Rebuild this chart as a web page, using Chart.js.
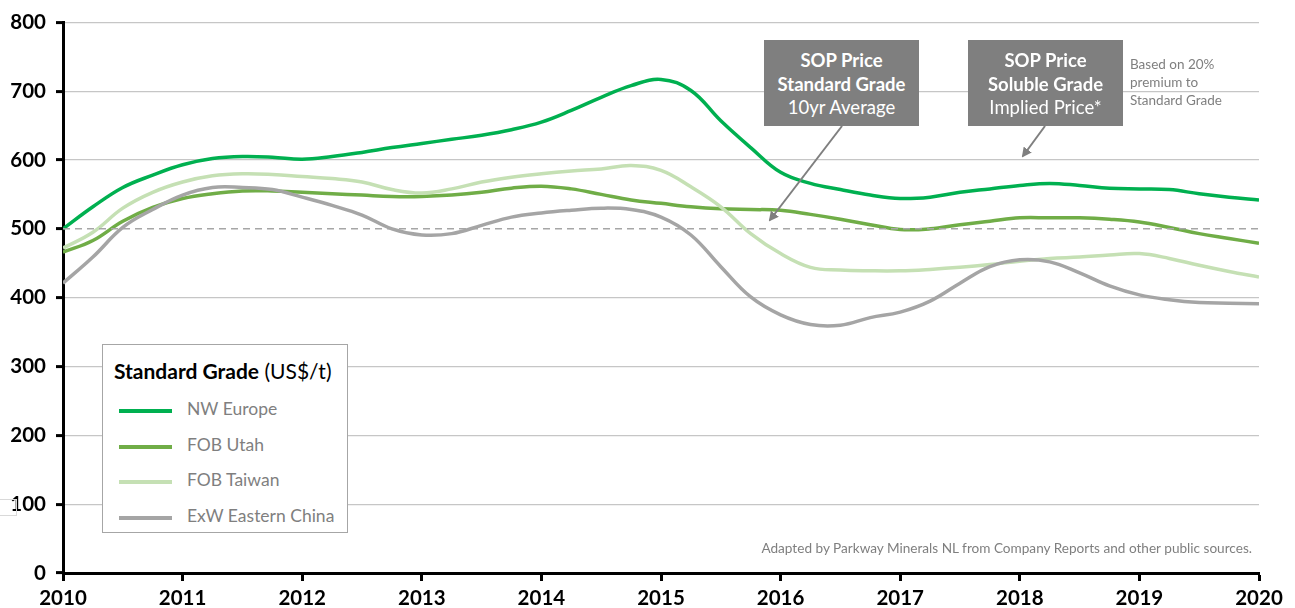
<!DOCTYPE html>
<html>
<head>
<meta charset="utf-8">
<script src="https://cdn.jsdelivr.net/npm/chart.js@4"></script>
<style>
  html, body { margin: 0; padding: 0; background: #fff; }
  #wrap { position: relative; width: 1295px; height: 608px; font-family: Lato, "Open Sans", sans-serif; }
  #chart { position: absolute; left: 0; top: 0; }
  .note-box { position: absolute; background: #7f7f7f; color: #fff; text-align: center; font-size: 18.5px; line-height: 23.5px; padding-top: 9px; box-sizing: border-box; white-space: nowrap; }
  .note-box b { font-weight: 700; }
  #legend { position: absolute; left: 102px; top: 344px; width: 246px; height: 189px; border: 1px solid #a6a6a6; background: #fff; box-sizing: border-box; }
  #legend .title { position: absolute; left: 11px; top: 13px; font-size: 21px; color: #000; white-space: nowrap; }
  #legend .item { position: absolute; left: 16px; height: 20px; font-size: 17.5px; color: #7f7f7f; white-space: nowrap; }
  #legend .item span.swatch { position: absolute; left: 0; top: 9px; width: 53px; height: 3.5px; }
  #legend .item span.label { position: absolute; left: 68px; top: -2px; }
  #side-note { position: absolute; left: 1130px; top: 55px; font-size: 13.5px; line-height: 18px; color: #7f7f7f; }
  #source { position: absolute; right: 43px; top: 540px; font-size: 13.6px; color: #7f7f7f; }
  #stub { position: absolute; left: -2px; top: 499px; width: 19px; height: 17px; border: 1px solid #d9d9d9; box-sizing: border-box; }
  svg { position: absolute; left: 0; top: 0; }
</style>
</head>
<body>
<div id="wrap">
  <canvas id="chart" width="1295" height="608"></canvas>
  <div id="stub"></div>
  <svg width="1295" height="608">
    <defs>
      <marker id="head" markerWidth="10" markerHeight="10" refX="8" refY="5" orient="auto" markerUnits="userSpaceOnUse">
        <path d="M0,0 L10,5 L0,10 Z" fill="#7f7f7f"/>
      </marker>
    </defs>
    <line x1="842" y1="126" x2="770" y2="220" stroke="#7f7f7f" stroke-width="2" marker-end="url(#head)"/>
    <line x1="1045" y1="126" x2="1023" y2="156" stroke="#7f7f7f" stroke-width="2" marker-end="url(#head)"/>
  </svg>
  <div class="note-box" style="left:764px; top:40px; width:155px; height:86px;">
    <b>SOP Price</b><br><b>Standard Grade</b><br>10yr Average
  </div>
  <div class="note-box" style="left:968px; top:40px; width:155px; height:86px;">
    <b>SOP Price</b><br><b>Soluble Grade</b><br>Implied Price*
  </div>
  <div id="side-note">Based on 20%<br>premium to<br>Standard Grade</div>
  <div id="legend">
    <div class="title"><b>Standard Grade</b> (US$/t)</div>
    <div class="item" style="top:55px;"><span class="swatch" style="background:#00b050"></span><span class="label">NW Europe</span></div>
    <div class="item" style="top:91px;"><span class="swatch" style="background:#70ad47"></span><span class="label">FOB Utah</span></div>
    <div class="item" style="top:126px;"><span class="swatch" style="background:#c5e0b4"></span><span class="label">FOB Taiwan</span></div>
    <div class="item" style="top:162px;"><span class="swatch" style="background:#a5a5a5"></span><span class="label">ExW Eastern China</span></div>
  </div>
  <div id="source">Adapted by Parkway Minerals NL from Company Reports and other public sources.</div>
</div>
<script>
// quarterly sample points (year fractions)
const years = [
  2010, 2010.25, 2010.5, 2010.75, 2011, 2011.25, 2011.5, 2011.75,
  2012, 2012.25, 2012.5, 2012.75, 2013, 2013.25, 2013.5, 2013.75,
  2014, 2014.25, 2014.5, 2014.75, 2015, 2015.25, 2015.5, 2015.75,
  2016, 2016.25, 2016.5, 2016.75, 2017, 2017.25, 2017.5, 2017.75,
  2018, 2018.25, 2018.5, 2018.75, 2019, 2019.25, 2019.5, 2019.75, 2020
];

const nwEurope = [
  500, 532, 560, 578, 593, 602, 605, 604,
  601, 605, 611, 618, 624, 630, 636, 644,
  655, 672, 691, 708, 717, 701, 657, 618,
  582, 566, 557, 549, 544, 546, 553, 558,
  563, 566, 563, 559, 558, 557, 551, 546, 542
];

const fobUtah = [
  466, 483, 511, 531, 544, 551, 555, 555,
  553, 551, 549, 547, 547, 549, 553, 559,
  562, 558, 550, 542, 537, 532, 529, 528,
  527, 521, 514, 506, 499, 500, 506, 511,
  516, 516, 516, 514, 510, 502, 493, 486, 479
];

const fobTaiwan = [
  472, 495, 530, 553, 568, 577, 580, 579,
  576, 573, 568, 557, 552, 558, 568, 575,
  580, 584, 587, 592, 585, 561, 532, 493,
  464, 444, 440, 439, 439, 441, 444, 448,
  453, 457, 459, 462, 464, 457, 447, 438, 430
];

const exwChina = [
  421, 459, 502, 528, 549, 560, 560, 557,
  546, 534, 520, 500, 491, 493, 505, 517,
  523, 527, 530, 528, 517, 491, 445, 401,
  375, 361, 360, 371, 379, 395, 421, 445,
  455, 452, 436, 417, 404, 397, 393, 392, 391
];

// 10yr average reference line
const avgYears = [2010, 2020];
const avgValues = [500, 500];

const yTicks = [0, 100, 200, 300, 400, 500, 600, 700, 800];

function toPoints(xs, ys) {
  return xs.map((x, i) => ({ x: x, y: ys[i] }));
}

function seriesLine(label, data, color) {
  return {
    label: label,
    data: toPoints(years, data),
    borderColor: color,
    borderWidth: 3.5,
    pointRadius: 0,
    tension: 0.4,
    fill: false
  };
}

const ctx = document.getElementById('chart').getContext('2d');

new Chart(ctx, {
  type: 'line',
  data: {
    datasets: [
      {
        label: '10yr Average',
        data: toPoints(avgYears, avgValues),
        borderColor: '#a6a6a6',
        borderWidth: 1.5,
        borderDash: [7, 5],
        pointRadius: 0,
        tension: 0
      },
      seriesLine('ExW Eastern China', exwChina, '#a5a5a5'),
      seriesLine('FOB Taiwan', fobTaiwan, '#c5e0b4'),
      seriesLine('FOB Utah', fobUtah, '#70ad47'),
      seriesLine('NW Europe', nwEurope, '#00b050')
    ]
  },
  options: {
    responsive: false,
    animation: false,
    layout: { padding: { top: 22, right: 36, left: 0, bottom: 0 } },
    plugins: {
      legend: { display: false },
      tooltip: { enabled: false }
    },
    scales: {
      x: {
        type: 'linear',
        min: 2010,
        max: 2020,
        afterFit: s => { s.height = 35; },
        afterBuildTicks: s => {
          s.ticks = years.filter(y => Number.isInteger(y)).map(v => ({ value: v }));
        },
        ticks: {
          color: '#000',
          padding: 5,
          maxRotation: 0,
          autoSkip: false,
          font: { family: 'Lato', size: 20.5, weight: 'bold' },
          callback: v => String(v)
        },
        grid: {
          drawOnChartArea: false,
          drawTicks: true,
          tickLength: 8,
          tickWidth: 3,
          tickColor: '#000'
        },
        border: { display: true, color: '#000', width: 3 }
      },
      y: {
        min: 0,
        max: 800,
        afterFit: s => { s.width = 63; },
        afterBuildTicks: s => {
          s.ticks = yTicks.map(v => ({ value: v }));
        },
        ticks: {
          color: '#000',
          padding: 10,
          font: { family: 'Lato', size: 20.5, weight: 'bold' }
        },
        grid: {
          color: c => (c.tick && (c.tick.value === 500 || c.tick.value === 0)) ? 'rgba(0,0,0,0)' : '#c6c6c6',
          lineWidth: 1.2,
          drawTicks: true,
          tickLength: 7,
          tickWidth: 3,
          tickColor: '#000'
        },
        border: { display: true, color: '#000', width: 3 }
      }
    }
  }
});
</script>
</body>
</html>
